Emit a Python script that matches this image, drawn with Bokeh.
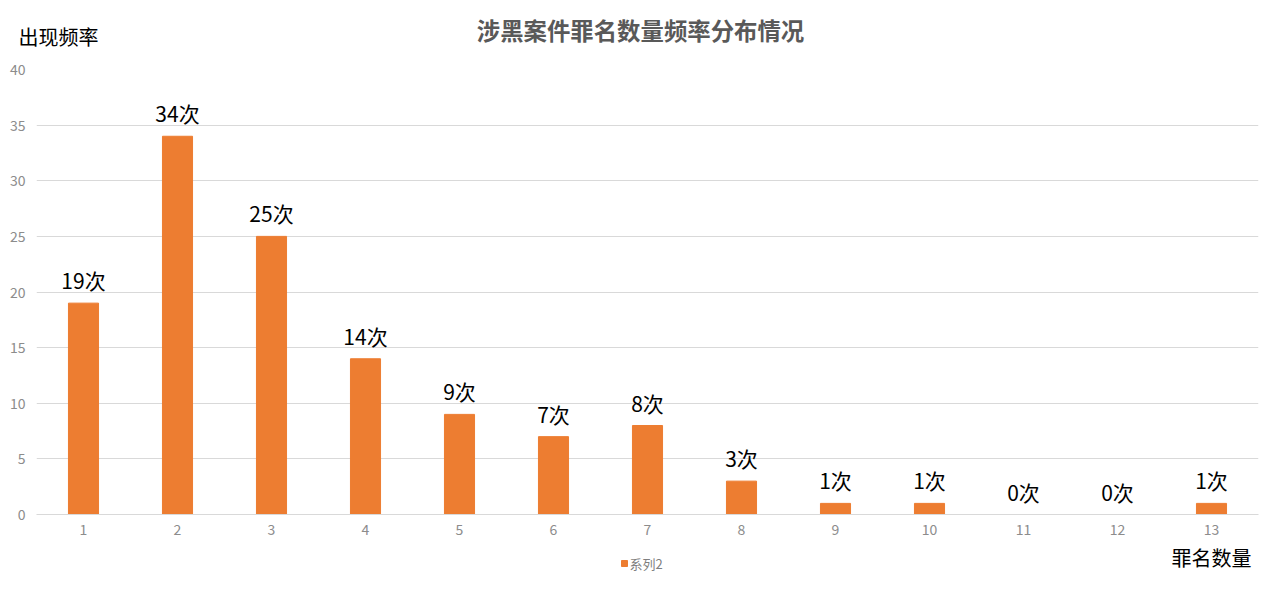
from bokeh.plotting import figure
from bokeh.models import ColumnDataSource, FactorRange, Range1d, FixedTicker
from bokeh.layouts import column
from bokeh.core.properties import value
from bokeh.embed import file_html
from bokeh.resources import INLINE

categories = [str(i) for i in range(1, 14)]
counts = [19, 34, 25, 14, 9, 7, 8, 3, 1, 1, 0, 0, 1]
count_labels = [f"{c}次" for c in counts]
y_ticks = [0, 5, 10, 15, 20, 25, 30, 35, 40]

title_text = "涉黑案件罪名数量频率分布情况"
y_title = "出现频率"
x_title = "罪名数量"
series_name = "系列2"

FONT = "Noto Sans CJK SC"
ORANGE = "#ED7D31"
W = 1264
HEAD_H, MAIN_H, FOOT_H = 55, 489, 29


def no_frame_align(f):
    if "frame_align" in f.properties():
        f.frame_align = False
    return f


def text_strip(height):
    """Blank canvas whose data coordinates are its pixels (y down)."""
    f = figure(width=W, height=height, x_range=Range1d(0, W), y_range=Range1d(height, 0),
               output_backend="svg", toolbar_location=None,
               x_axis_location=None, y_axis_location=None,
               min_border=0, min_border_left=0, min_border_right=0,
               min_border_top=0, min_border_bottom=0)
    f.grid.grid_line_color = None
    f.outline_line_color = None
    return no_frame_align(f)


# header: chart title and y-axis title
head = text_strip(HEAD_H)
head.text(x=[640], y=[29], text=[title_text], text_align="center", text_baseline="middle",
          text_font=value(FONT), text_font_size="23.4px", text_font_style="bold",
          text_color="#595959")
head.text(x=[18], y=[36], text=[y_title], text_align="left", text_baseline="middle",
          text_font=value(FONT), text_font_size="20px", text_color="#000000")

# main chart
source = ColumnDataSource(dict(x=categories, top=counts, label=count_labels))
p = figure(width=W, height=MAIN_H, x_range=FactorRange(factors=categories, range_padding=0),
           y_range=Range1d(0, 40), output_backend="svg", toolbar_location=None,
           min_border_left=36, min_border_right=6, min_border_top=14, min_border_bottom=30)
no_frame_align(p)
p.outline_line_color = None
p.vbar(x="x", top="top", width=0.32, source=source, color=ORANGE)
p.text(x="x", y="top", text="label", source=source, text_align="center",
       text_baseline="bottom", y_offset=-8, text_font=value(FONT),
       text_font_size="21px", text_color="#000000")

p.xgrid.grid_line_color = None
p.ygrid.grid_line_color = "#D9D9D9"
p.ygrid.grid_line_width = 1
p.yaxis.ticker = FixedTicker(ticks=y_ticks)
p.yaxis.axis_line_color = None
p.xaxis.axis_line_color = "#D9D9D9"
p.yaxis.major_label_standoff = 11
p.xaxis.major_label_standoff = 9
for ax in (p.xaxis, p.yaxis):
    ax.major_tick_line_color = None
    ax.minor_tick_line_color = None
    ax.major_tick_out = 0
    ax.major_tick_in = 0
    ax.minor_tick_out = 0
    ax.minor_tick_in = 0
    ax.major_label_text_color = "#8C8C8C"
    ax.major_label_text_font = FONT
    ax.major_label_text_font_size = "14px"

# footer: legend and x-axis title
foot = text_strip(FOOT_H)
foot.scatter(x=[624], y=[19], marker="square", size=6, color=ORANGE)
foot.text(x=[629], y=[19], text=[series_name], text_align="left", text_baseline="middle",
          text_font=value(FONT), text_font_size="13px", text_color="#7F7F7F")
foot.text(x=[1171], y=[13], text=[x_title], text_align="left", text_baseline="middle",
          text_font=value(FONT), text_font_size="20px", text_color="#000000")

layout = column(head, p, foot, spacing=0)
open("out.html", "w").write(file_html(layout, INLINE))
